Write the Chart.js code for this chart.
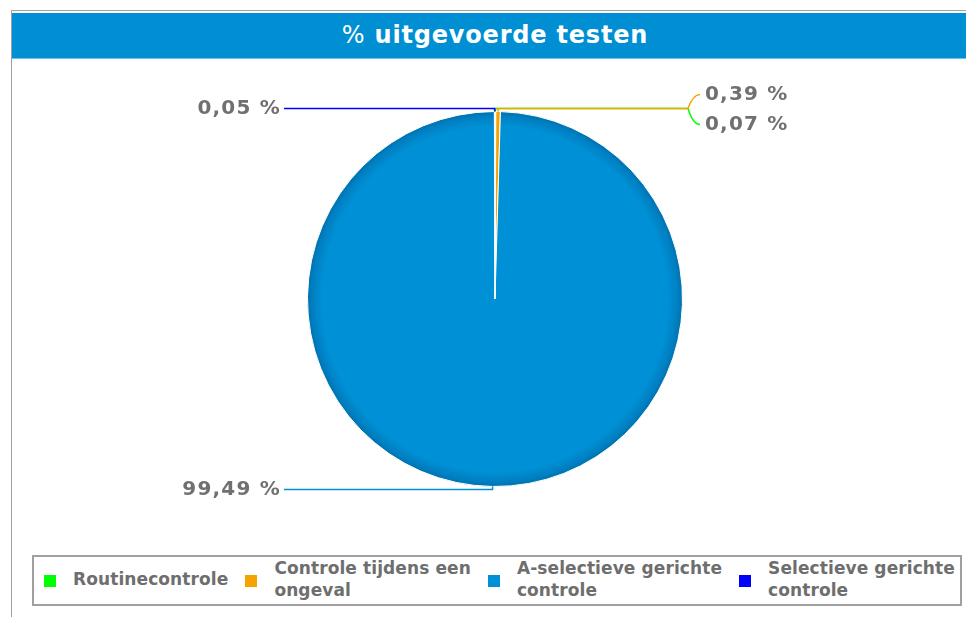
<!DOCTYPE html>
<html>
<head>
<meta charset="utf-8">
<script src="https://cdn.jsdelivr.net/npm/chart.js@4/dist/chart.umd.min.js"></script>
<style>
  html, body { margin: 0; padding: 0; background: #fff; }
  body { width: 966px; height: 617px; position: relative; overflow: hidden; font-family: "DejaVu Sans", sans-serif; }
  #frame { position: absolute; left: 11px; top: 10px; width: 960px; height: 620px; border-left: 1px solid #a0a0a0; border-top: 1px solid #a0a0a0; }
  #title { position: absolute; left: 12px; top: 13px; width: 954px; height: 45px; background: #008fd3; border-bottom: 1px solid #6cc4ee;
           color: #fff; font-weight: bold; font-size: 24px; line-height: 45px; text-align: center; letter-spacing: 0.8px; text-indent: 12px; }
  #title .pct { font-weight: normal; }
  #chart-wrap { position: absolute; left: 0; top: 59px; width: 966px; height: 490px; }
  #legend { position: absolute; left: 32px; top: 555px; width: 916px; height: 47px; border: 2px solid #a0a0a0;
            display: flex; align-items: center; padding-left: 10px; }
  .item { display: flex; align-items: center; margin-right: 17px; }
  .box { width: 12px; height: 12px; margin-right: 17px; flex: none; }
  .txt { color: #6e6e6e; font-weight: bold; font-size: 17px; line-height: 22px; letter-spacing: 0.1px; white-space: nowrap; margin-top: -3px; }
</style>
</head>
<body>
<div id="frame"></div>
<div id="title"><span class="pct">%</span> uitgevoerde testen</div>
<div id="chart-wrap"><canvas id="pie-chart" width="966" height="490"></canvas></div>
<div id="legend"></div>
<script>
var categories = ["Routinecontrole", "Controle tijdens een ongeval", "A-selectieve gerichte controle", "Selectieve gerichte controle"];
var legendLines = [["Routinecontrole"], ["Controle tijdens een", "ongeval"], ["A-selectieve gerichte", "controle"], ["Selectieve gerichte", "controle"]];
var percentages = [0.07, 0.39, 99.49, 0.05];
var colors = ["#00ff00", "#f5a300", "#0090d5", "#0000ff"];

// legend built from the arrays
var legend = document.getElementById("legend");
categories.forEach(function(name, i) {
  var item = document.createElement("div");
  item.className = "item";
  var box = document.createElement("div");
  box.className = "box";
  box.style.background = colors[i];
  var txt = document.createElement("div");
  txt.className = "txt";
  txt.innerHTML = legendLines[i].join("<br>");
  item.appendChild(box);
  item.appendChild(txt);
  legend.appendChild(item);
});

function fmt(v) {
  return v.toFixed(2).replace(".", ",") + " %";
}

// slice labels with leader lines
var leaderLabels = {
  id: "leaderLabels",
  afterDatasetsDraw: function(chart) {
    var ctx = chart.ctx;
    var arcs = chart.getDatasetMeta(0).data;
    var all = [], left = [], right = [];
    arcs.forEach(function(arc, i) {
      var mid = (arc.startAngle + arc.endAngle) / 2;
      var r = arc.outerRadius;
      var a = { i: i, mid: mid, x0: arc.x + Math.cos(mid) * r, y0: arc.y + Math.sin(mid) * r,
                x1: arc.x + Math.cos(mid) * (r + 3), y1: arc.y + Math.sin(mid) * (r + 3), cx: arc.x, r: r };
      a.ty = a.y1;
      all.push(a);
      if (Math.cos(mid) >= 0) right.push(a); else left.push(a);
    });
    // spread labels on the same side that sit too close
    [left, right].forEach(function(side) {
      side.sort(function(a, b) {
        var d = Math.round(a.y1) - Math.round(b.y1);
        return d !== 0 ? d : b.i - a.i;
      });
      for (var k = 1; k < side.length; k++) {
        if (side[k].ty - side[k - 1].ty < 30) {
          var m = (side[k].ty + side[k - 1].ty) / 2;
          side[k - 1].ty = m - 14;
          side[k].ty = m + 16;
        }
      }
    });
    ctx.save();
    ctx.lineWidth = 1.5;
    ctx.font = "bold 20px 'DejaVu Sans'";
    ctx.textBaseline = "middle";
    ctx.fillStyle = "#707070";
    all.forEach(function(a) {
      var isRight = Math.cos(a.mid) >= 0;
      var dir = isRight ? 1 : -1;
      var elbowX = a.cx + dir * (isRight ? 193 : 199);
      var endX = a.cx + dir * (isRight ? 205 : 211);
      ctx.strokeStyle = colors[a.i];
      ctx.beginPath();
      ctx.moveTo(a.x0, a.y0);
      ctx.lineTo(a.x1, a.y1);
      ctx.lineTo(elbowX, a.y1);
      ctx.quadraticCurveTo(elbowX + dir * 5, a.ty, endX, a.ty);
      ctx.stroke();
      ctx.textAlign = isRight ? "left" : "right";
      ctx.save();
      ctx.letterSpacing = "1.2px";
      ctx.fillText(fmt(percentages[a.i]), endX + dir * (isRight ? 5 : 3), a.ty);
      ctx.restore();
    });
    ctx.restore();
  }
};

function sliceColor(context) {
  var base = colors[context.dataIndex];
  var area = context.chart.chartArea;
  if (!area) return base;
  var cx = (area.left + area.right) / 2, cy = (area.top + area.bottom) / 2;
  var r = Math.min(area.right - area.left, area.bottom - area.top) / 2;
  var g = context.chart.ctx.createRadialGradient(cx, cy, 0, cx, cy, r);
  g.addColorStop(0, base);
  g.addColorStop(0.92, base);
  if (context.dataIndex === 2) {
    g.addColorStop(0.97, "#0080c2");
    g.addColorStop(1, "#0070ad");
  } else {
    g.addColorStop(1, base);
  }
  return g;
}

var ctx = document.getElementById("pie-chart");
new Chart(ctx, {
  type: "pie",
  data: {
    labels: categories,
    datasets: [{
      data: percentages,
      backgroundColor: sliceColor,
      borderColor: "#ffffff",
      borderWidth: 1
    }]
  },
  options: {
    responsive: false,
    animation: false,
    layout: { padding: { left: 24, right: 0, top: 52, bottom: 62 } },
    plugins: {
      legend: { display: false },
      tooltip: { enabled: false },
      title: { display: false }
    }
  },
  plugins: [leaderLabels]
});
</script>
</body>
</html>
